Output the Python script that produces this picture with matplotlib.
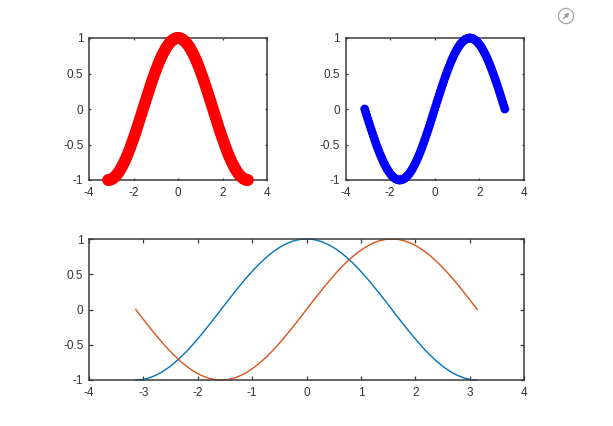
#!/usr/bin/env python3
"""Two marker subplots above one line subplot, MATLAB look."""

import matplotlib

matplotlib.use("Agg")
import matplotlib.pyplot as plt
from matplotlib.patches import Circle

X_VALUES = [
    -3.14, -3.1, -3.05, -3.0, -2.95, -2.9, -2.85, -2.8, -2.75, -2.7, -2.65, -2.6, -2.55, -2.5, -2.45, -2.4,
    -2.35, -2.3, -2.25, -2.2, -2.15, -2.1, -2.05, -2.0, -1.95, -1.9, -1.85, -1.8, -1.75, -1.7, -1.65, -1.6,
    -1.55, -1.5, -1.45, -1.4, -1.35, -1.3, -1.25, -1.2, -1.15, -1.1, -1.05, -1.0, -0.95, -0.9, -0.85, -0.8,
    -0.75, -0.7, -0.65, -0.6, -0.55, -0.5, -0.45, -0.4, -0.35, -0.3, -0.25, -0.2, -0.15, -0.1, -0.05,
    0.0,
    0.05, 0.1, 0.15, 0.2, 0.25, 0.3, 0.35, 0.4, 0.45, 0.5, 0.55, 0.6, 0.65, 0.7, 0.75, 0.8,
    0.85, 0.9, 0.95, 1.0, 1.05, 1.1, 1.15, 1.2, 1.25, 1.3, 1.35, 1.4, 1.45, 1.5, 1.55, 1.6,
    1.65, 1.7, 1.75, 1.8, 1.85, 1.9, 1.95, 2.0, 2.05, 2.1, 2.15, 2.2, 2.25, 2.3, 2.35, 2.4,
    2.45, 2.5, 2.55, 2.6, 2.65, 2.7, 2.75, 2.8, 2.85, 2.9, 2.95, 3.0, 3.05, 3.1, 3.14,
]
COS_VALUES = [
    -1.0, -0.999, -0.996, -0.99, -0.982, -0.971, -0.958, -0.942, -0.924, -0.904, -0.882, -0.857, -0.83, -0.801, -0.77, -0.737,
    -0.703, -0.666, -0.628, -0.589, -0.548, -0.505, -0.461, -0.416, -0.37, -0.323, -0.276, -0.227, -0.178, -0.129, -0.079, -0.029,
    0.021, 0.071, 0.121, 0.17, 0.219, 0.267, 0.315, 0.362, 0.409, 0.454, 0.498, 0.54, 0.582, 0.622, 0.66, 0.697,
    0.732, 0.765, 0.796, 0.825, 0.853, 0.878, 0.9, 0.921, 0.939, 0.955, 0.969, 0.98, 0.989, 0.995, 0.999,
    1.0,
    0.999, 0.995, 0.989, 0.98, 0.969, 0.955, 0.939, 0.921, 0.9, 0.878, 0.853, 0.825, 0.796, 0.765, 0.732, 0.697,
    0.66, 0.622, 0.582, 0.54, 0.498, 0.454, 0.409, 0.362, 0.315, 0.267, 0.219, 0.17, 0.121, 0.071, 0.021, -0.029,
    -0.079, -0.129, -0.178, -0.227, -0.276, -0.323, -0.37, -0.416, -0.461, -0.505, -0.548, -0.589, -0.628, -0.666, -0.703, -0.737,
    -0.77, -0.801, -0.83, -0.857, -0.882, -0.904, -0.924, -0.942, -0.958, -0.971, -0.982, -0.99, -0.996, -0.999, -1.0,
]
SIN_VALUES = [
    0.0, -0.042, -0.091, -0.141, -0.19, -0.239, -0.287, -0.335, -0.382, -0.427, -0.472, -0.516, -0.558, -0.598, -0.638, -0.675,
    -0.711, -0.746, -0.778, -0.808, -0.837, -0.863, -0.887, -0.909, -0.929, -0.946, -0.961, -0.974, -0.984, -0.992, -0.997, -1.0,
    -1.0, -0.997, -0.993, -0.985, -0.976, -0.964, -0.949, -0.932, -0.913, -0.891, -0.867, -0.841, -0.813, -0.783, -0.751, -0.717,
    -0.682, -0.644, -0.605, -0.565, -0.523, -0.479, -0.435, -0.389, -0.343, -0.296, -0.247, -0.199, -0.149, -0.1, -0.05,
    0.0,
    0.05, 0.1, 0.149, 0.199, 0.247, 0.296, 0.343, 0.389, 0.435, 0.479, 0.523, 0.565, 0.605, 0.644, 0.682, 0.717,
    0.751, 0.783, 0.813, 0.841, 0.867, 0.891, 0.913, 0.932, 0.949, 0.964, 0.976, 0.985, 0.993, 0.997, 1.0, 1.0,
    0.997, 0.992, 0.984, 0.974, 0.961, 0.946, 0.929, 0.909, 0.887, 0.863, 0.837, 0.808, 0.778, 0.746, 0.711, 0.675,
    0.638, 0.598, 0.558, 0.516, 0.472, 0.427, 0.382, 0.335, 0.287, 0.239, 0.19, 0.141, 0.091, 0.042, 0.0,
]
X_TICKS_TOP = [-4, -2, 0, 2, 4]
X_TICKS_BOTTOM = [-4, -3, -2, -1, 0, 1, 2, 3, 4]
Y_TICKS = [-1, -0.5, 0, 0.5, 1]
Y_TICK_LABELS = ["-1", "-0.5", "0", "0.5", "1"]

WIDTH, HEIGHT = 613, 426
FRAME = "#3a3a3a"
TEXT = "#333333"


def pixel_axes(figure, left, top, right, bottom):
    return figure.add_axes(
        [left / WIDTH, 1 - bottom / HEIGHT, (right - left) / WIDTH, (bottom - top) / HEIGHT]
    )


def style_axis(axis, x_ticks, length):
    axis.set_xlim(-4, 4)
    axis.set_ylim(-1, 1)
    axis.set_xticks(x_ticks, [str(tick) for tick in x_ticks])
    axis.set_yticks(Y_TICKS, Y_TICK_LABELS)
    axis.tick_params(
        direction="in", length=length, width=0.9, color=FRAME, labelcolor=TEXT,
        labelsize=8.5, top=True, right=True,
    )
    axis.tick_params(axis="x", pad=5)
    axis.tick_params(axis="y", pad=4)
    for spine in axis.spines.values():
        spine.set_linewidth(1.1)
        spine.set_color(FRAME)


def main():
    plt.rcParams["font.family"] = ["Liberation Sans", "DejaVu Sans"]
    figure = plt.figure(figsize=(WIDTH / 100, HEIGHT / 100), dpi=100)

    # a list of sizes keeps agg from rounding marker centres to whole pixels
    left_axis = pixel_axes(figure, 89, 38, 267, 180)
    red = left_axis.scatter(
        X_VALUES, COS_VALUES, s=[72] * len(X_VALUES), color="#ff0000", linewidths=0, clip_on=False, zorder=3
    )
    red.set_snap(False)
    style_axis(left_axis, X_TICKS_TOP, 1.6)

    right_axis = pixel_axes(figure, 345.5, 38, 524, 180)
    blue = right_axis.scatter(
        X_VALUES, SIN_VALUES, s=[40] * len(X_VALUES), color="#0000ff", linewidths=0, clip_on=False, zorder=3
    )
    blue.set_snap(False)
    style_axis(right_axis, X_TICKS_TOP, 1.6)

    bottom_axis = pixel_axes(figure, 89, 239, 524, 380)
    bottom_axis.plot(X_VALUES, COS_VALUES, color="#0072bd", linewidth=1.0, clip_on=False)
    bottom_axis.plot(X_VALUES, SIN_VALUES, color="#d95319", linewidth=1.0, clip_on=False)
    style_axis(bottom_axis, X_TICKS_BOTTOM, 3.0)

    # export button in the corner
    icon = pixel_axes(figure, 557, 7, 575, 25)
    icon.set_xlim(0, 18)
    icon.set_ylim(18, 0)
    icon.axis("off")
    icon.add_patch(Circle((9, 9), 7.6, fill=False, edgecolor="#a6a6a6", linewidth=0.9))
    icon.annotate(
        "", xy=(12.5, 5.5), xytext=(6.5, 11.5),
        arrowprops={"arrowstyle": "-|>", "color": "#a0a0a0", "lw": 1.0, "mutation_scale": 6,
                    "shrinkA": 0, "shrinkB": 0},
    )

    figure.savefig("out.png", dpi=100)
    plt.close(figure)


if __name__ == "__main__":
    main()
